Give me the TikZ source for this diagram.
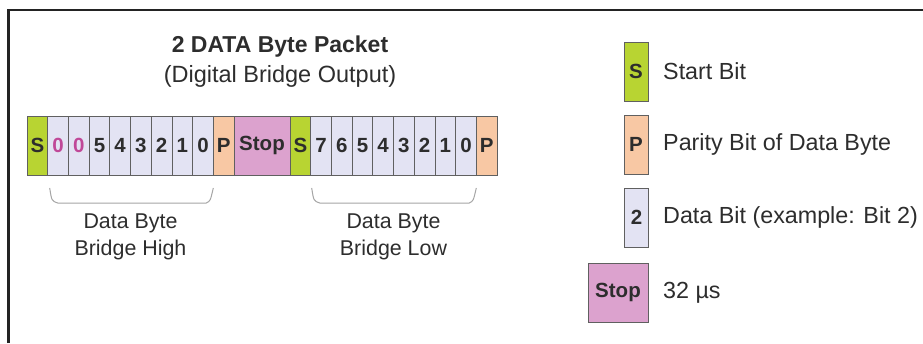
\documentclass[tikz,border=0pt]{standalone}
\usepackage{fontspec}
\setmainfont{Liberation Sans}
\usetikzlibrary{calc}
\definecolor{startgreen}{RGB}{184,212,50}
\definecolor{datablue}{RGB}{227,227,243}
\definecolor{parityorange}{RGB}{248,200,164}
\definecolor{stoppink}{RGB}{220,162,206}
\definecolor{zerocol}{RGB}{192,72,152}
\definecolor{cellline}{RGB}{96,96,96}
\definecolor{txt}{RGB}{45,45,45}
\definecolor{framecol}{RGB}{35,35,35}
\definecolor{bracketcol}{RGB}{165,165,165}
\begin{document}
\begin{tikzpicture}[x=1pt,y=-1pt,
  cell/.style={draw=cellline, line width=0.8pt, minimum width=20.7pt, minimum height=59pt,
    inner sep=0pt, outer sep=0pt, anchor=north west, text=txt, font=\fontsize{20.5}{24}\selectfont\bfseries},
  startbit/.style={cell, fill=startgreen},
  databit/.style={cell, fill=datablue},
  zerobit/.style={databit, text=zerocol},
  paritybit/.style={cell, fill=parityorange},
  stopbit/.style={cell, fill=stoppink, minimum width=56pt},
  legbox/.style={cell, minimum width=24pt},
  bracket/.style={draw=bracketcol, line width=1pt},
  grouplabel/.style={align=center, text=txt, font=\fontsize{21.4}{27}\selectfont},
  legtext/.style={anchor=west, text=txt, font=\fontsize{23.3}{27}\selectfont, inner sep=0pt},
  titletext/.style={text=txt, inner sep=0pt}
]
\useasboundingbox (0,0) rectangle (923,343);
% frame
\draw[framecol, line width=2.6pt] (8.5,343) -- (8.5,10) -- (923,10);
% title
\node[titletext, font=\fontsize{23}{27}\selectfont\bfseries] (title) at (280,47) {2 DATA Byte Packet};
\node[titletext, font=\fontsize{23.5}{27}\selectfont] (subtitle) at (280,76) {(Digital Bridge Output)};
% first byte
\node[startbit] (c0) at (27,116) {S};
\node[zerobit] (c1) at (c0.north east) {0};
\node[zerobit] (c2) at (c1.north east) {0};
\node[databit] (c3) at (c2.north east) {5};
\node[databit] (c4) at (c3.north east) {4};
\node[databit] (c5) at (c4.north east) {3};
\node[databit] (c6) at (c5.north east) {2};
\node[databit] (c7) at (c6.north east) {1};
\node[databit] (c8) at (c7.north east) {0};
\node[paritybit] (c9) at (c8.north east) {P};
\node[stopbit] (c10) at (c9.north east) {Stop};
% second byte
\node[startbit] (c11) at (c10.north east) {S};
\node[databit] (c12) at (c11.north east) {7};
\node[databit] (c13) at (c12.north east) {6};
\node[databit] (c14) at (c13.north east) {5};
\node[databit] (c15) at (c14.north east) {4};
\node[databit] (c16) at (c15.north east) {3};
\node[databit] (c17) at (c16.north east) {2};
\node[databit] (c18) at (c17.north east) {1};
\node[databit] (c19) at (c18.north east) {0};
\node[paritybit] (c20) at (c19.north east) {P};
% brackets
\draw[bracket] ($(c1.south west)+(2,13)$) .. controls ($(c1.south west)+(4,26)$) .. ($(c1.south west)+(10,28)$)
  -- ($(c8.south east)+(-7,28)$) .. controls ($(c8.south east)+(-3,26)$) .. ($(c8.south east)+(0,13)$);
\draw[bracket] ($(c12.south west)+(1,13)$) .. controls ($(c12.south west)+(3,26)$) .. ($(c12.south west)+(9,28)$)
  -- ($(c19.south east)+(-7,28)$) .. controls ($(c19.south east)+(-3,26)$) .. ($(c19.south east)+(0,13)$);
% group labels
\node[grouplabel] (lblhigh) at ($($(c1.south west)!0.5!(c8.south east)$)+(0,62)$) {Data Byte\\Bridge High};
\node[grouplabel] (lbllow) at ($($(c12.south west)!0.5!(c19.south east)$)+(0,62)$) {Data Byte\\Bridge Low};
% legend
\node[legbox, fill=startgreen] (lgS) at (624,42) {S};
\node[legbox, fill=parityorange] (lgP) at (624,115) {P};
\node[legbox, fill=datablue] (lgD) at (624.5,188) {2};
\node[legbox, fill=stoppink, minimum width=60pt] (lgStop) at (588,263) {Stop};
\node[legtext] (tS) at ($(lgS.east)+(15,0)$) {Start Bit};
\node[legtext] (tP) at ($(lgP.east)+(15,0)$) {Parity Bit of Data Byte};
\node[legtext] (tD) at ($(lgD.east)+(14.5,0)$) {Data Bit (example: Bit 2)};
\node[legtext] (tStop) at ($(lgStop.east)+(15,0)$) {32 µs};
\end{tikzpicture}
\end{document}
